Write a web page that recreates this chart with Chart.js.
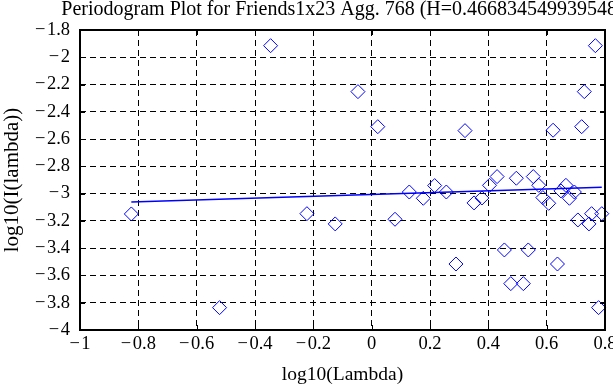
<!DOCTYPE html>
<html>
<head>
<meta charset="utf-8">
<script src="https://cdn.jsdelivr.net/npm/chart.js@4/dist/chart.umd.min.js"></script>
<style>
    html, body { margin: 0; padding: 0; background: #fff; }
    #wrap { width: 613px; height: 385px; position: relative; }
</style>
</head>
<body>
<div id="wrap"><canvas id="periodogramChart"></canvas></div>
<script>
// Periodogram points (log10 of frequency vs log10 of periodogram)
const logLambda = [
    -0.824, -0.5215, -0.3465, -0.222, -0.125, -0.047, 0.021, 0.080, 0.129, 0.177,
    0.216, 0.256, 0.289, 0.320, 0.351, 0.378, 0.404, 0.430, 0.455, 0.477,
    0.496, 0.520, 0.537, 0.554, 0.573, 0.587, 0.607, 0.622, 0.637, 0.649,
    0.666, 0.678, 0.695, 0.707, 0.720, 0.729, 0.745, 0.754, 0.767, 0.778, 0.789
];
const logI = [
    -3.149, -3.836, -1.915, -3.147, -3.222, -2.252, -2.509, -3.188, -2.988, -3.034,
    -2.941, -2.988, -3.516, -2.538, -3.068, -3.032, -2.939, -2.875, -3.413, -3.660,
    -2.887, -3.660, -3.413, -2.875, -2.939, -3.029, -3.071, -2.535, -3.516, -2.980,
    -2.939, -3.034, -2.988, -3.193, -2.509, -2.252, -3.222, -3.147, -1.915, -3.836, -3.147
];

// Least squares fit line
const fitX = [-0.824, 0.789];
const fitY = [-3.061, -2.953];

const xTicks = [-1, -0.8, -0.6, -0.4, -0.2, 0, 0.2, 0.4, 0.6, 0.8];
const yTicks = [-1.8, -2, -2.2, -2.4, -2.6, -2.8, -3, -3.2, -3.4, -3.6, -3.8, -4];

const titleText = 'Periodogram Plot for Friends1x23 Agg. 768 (H=0.466834549939548)';
const fontFamily = '"Liberation Serif", "Times New Roman", serif';

function fmt(v) {
    const n = Number(v.toFixed(1));
    return n < 0 ? '\u2212\u200A' + Math.abs(n) : String(n);
}

// frame with inward tick marks + title over the plot area
const framePlugin = {
    id: 'frame',
    afterDraw(chart) {
        const ctx = chart.ctx;
        const a = chart.chartArea;
        const xs = chart.scales.x, ys = chart.scales.y;
        ctx.save();
        ctx.strokeStyle = '#000';
        ctx.lineWidth = 1;
        ctx.beginPath();
        xTicks.forEach(t => {
            const px = Math.round(xs.getPixelForValue(t)) + 0.5;
            ctx.moveTo(px, a.top); ctx.lineTo(px, a.top + 5);
            ctx.moveTo(px, a.bottom); ctx.lineTo(px, a.bottom - 5);
        });
        yTicks.forEach(t => {
            const py = Math.round(ys.getPixelForValue(t)) + 0.5;
            ctx.moveTo(a.left, py); ctx.lineTo(a.left + 5, py);
            ctx.moveTo(a.right, py); ctx.lineTo(a.right - 5, py);
        });
        ctx.stroke();
        ctx.lineWidth = 2;
        ctx.strokeRect(a.left, a.top, a.right - a.left, a.bottom - a.top);

        ctx.fillStyle = '#000';
        ctx.font = '20px ' + fontFamily;
        ctx.textAlign = 'center';
        ctx.textBaseline = 'alphabetic';
        ctx.fillText(titleText, (a.left + a.right) / 2, 15);
        ctx.restore();
    }
};

const ctx = document.getElementById('periodogramChart');

new Chart(ctx, {
    data: {
        datasets: [
            {
                type: 'scatter',
                data: logLambda.map((x, i) => ({ x: x, y: logI[i] })),
                pointStyle: 'rectRot',
                pointRadius: 7,
                pointHoverRadius: 7,
                borderColor: '#0000ff',
                backgroundColor: 'rgba(0,0,0,0)',
                borderWidth: 1,
                clip: false
            },
            {
                type: 'line',
                data: fitX.map((x, i) => ({ x: x, y: fitY[i] })),
                borderColor: '#0000ff',
                borderWidth: 1.5,
                pointRadius: 0,
                fill: false
            }
        ]
    },
    options: {
        responsive: true,
        maintainAspectRatio: false,
        animation: false,
        layout: { padding: { top: 30, right: 4, left: 0, bottom: 0 } },
        plugins: {
            legend: { display: false },
            tooltip: { enabled: false }
        },
        scales: {
            x: {
                type: 'linear',
                min: -1,
                max: 0.8,
                afterBuildTicks: scale => { scale.ticks = xTicks.map(v => ({ value: v })); },
                afterFit: scale => { scale.height = 55; scale.paddingLeft = 0; scale.paddingRight = 0; },
                grid: { color: '#000', lineWidth: 1, drawTicks: false },
                border: { display: false, dash: [6, 4] },
                ticks: {
                    color: '#000',
                    padding: 3,
                    maxRotation: 0,
                    autoSkip: false,
                    font: { family: fontFamily, size: 18.5 },
                    callback: v => fmt(v)
                },
                title: {
                    display: true,
                    text: 'log10(Lambda)',
                    color: '#000',
                    font: { family: fontFamily, size: 19.5 },
                    padding: { top: 0, bottom: -2 }
                }
            },
            y: {
                type: 'linear',
                min: -4,
                max: -1.8,
                afterBuildTicks: scale => { scale.ticks = yTicks.map(v => ({ value: v })); },
                afterFit: scale => { scale.width = 80; scale.paddingTop = 0; scale.paddingBottom = 0; },
                grid: { color: '#000', lineWidth: 1, drawTicks: false },
                border: { display: false, dash: [6, 4] },
                ticks: {
                    color: '#000',
                    padding: 10,
                    autoSkip: false,
                    font: { family: fontFamily, size: 18.5 },
                    callback: v => fmt(v)
                },
                title: {
                    display: true,
                    text: 'log10(I(lambda))',
                    color: '#000',
                    font: { family: fontFamily, size: 21 },
                    padding: { top: 0, bottom: 0 }
                }
            }
        }
    },
    plugins: [framePlugin]
});
</script>
</body>
</html>
